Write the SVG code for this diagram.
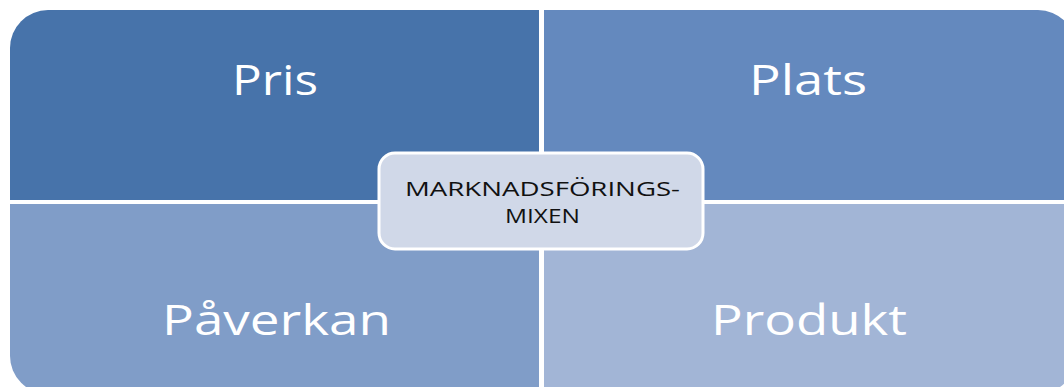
<svg xmlns="http://www.w3.org/2000/svg" width="1064" height="387" viewBox="0 0 1064 387">
<style>
.q{stroke:none}
.lbl{font-family:"Open Sans","Noto Sans",sans-serif;font-size:42px;fill:#ffffff;text-anchor:middle}
.ctr{font-family:"Open Sans","Noto Sans",sans-serif;font-size:20px;fill:#111111;text-anchor:middle}
</style>
<rect width="1064" height="387" fill="#ffffff"/>
<g id="pris">
<path class="q" fill="#4773AA" d="M10,48 A38,38 0 0 1 48,10 H539 V200 H10 Z"/>
<text class="lbl" x="275" y="95" textLength="86" lengthAdjust="spacingAndGlyphs">Pris</text>
</g>
<g id="plats">
<path class="q" fill="#6489BE" d="M544,10 H1038 A38,38 0 0 1 1076,48 V200 H544 Z"/>
<text class="lbl" x="808" y="95" textLength="118" lengthAdjust="spacingAndGlyphs">Plats</text>
</g>
<g id="paverkan">
<path class="q" fill="#809DC8" d="M10,204 H539 V394 H48 A38,38 0 0 1 10,356 Z"/>
<text class="lbl" x="276.5" y="335" textLength="229" lengthAdjust="spacingAndGlyphs">Påverkan</text>
</g>
<g id="produkt">
<path class="q" fill="#A2B5D6" d="M544,204 H1076 V356 A38,38 0 0 1 1038,394 H544 Z"/>
<text class="lbl" x="809" y="335" textLength="196" lengthAdjust="spacingAndGlyphs">Produkt</text>
</g>
<g id="connectors"></g>
<g id="center">
<rect x="379" y="153" width="324" height="96" rx="16" ry="16" fill="#D0D8E8" stroke="#ffffff" stroke-width="3"/>
<text class="ctr" x="542.5" y="196" textLength="275" lengthAdjust="spacingAndGlyphs">MARKNADSFÖRINGS-</text>
<text class="ctr" x="542.5" y="223" textLength="75" lengthAdjust="spacingAndGlyphs">MIXEN</text>
</g>
</svg>
